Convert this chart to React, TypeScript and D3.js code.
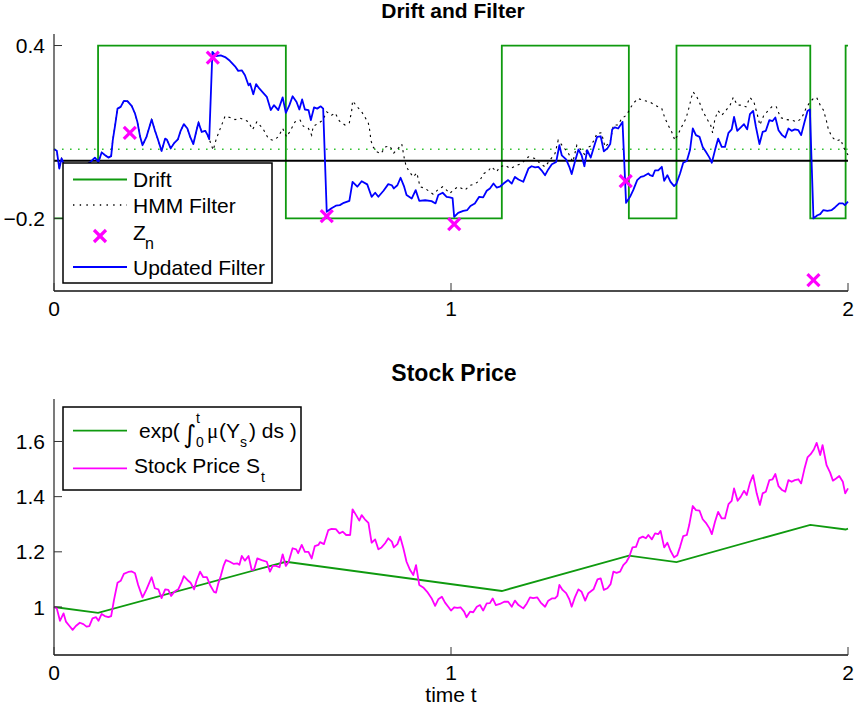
import React from 'react';
import * as d3 from 'd3';

// ---------- data ----------
const xTicks = [0, 1, 2];
const topYTicks = [0.4, -0.2];
const topYTickLabels = ['0.4', '\u22120.2'];
const bottomYTicks = [1, 1.2, 1.4, 1.6];
const bottomYTickLabels = ['1', '1.2', '1.4', '1.6'];

const driftTimes = [0, 0.111, 0.584, 1.128, 1.448, 1.568, 1.905, 1.994, 2.0];
const driftValues = [-0.2, 0.4, -0.2, 0.4, -0.2, 0.4, -0.2, 0.4, 0.4];
const meanDrift = 0.04;
const zeroLevel = 0;

// filter before first divergence (HMM and updated filter coincide)
const sharedFilter: [number, number][] = [
  [0, 0.04], [0.007, 0.035], [0.0134, -0.027], [0.019, 0.008], [0.025, -0.012], [0.035, -0.03],
  [0.05, -0.02], [0.065, -0.035], [0.08, -0.015], [0.092, -0.004], [0.103, 0.011], [0.112, -0.004],
  [0.12, 0.029], [0.128, 0.02], [0.137, 0.011], [0.144, 0.016], [0.148, 0.071], [0.154, 0.124],
  [0.16, 0.181], [0.168, 0.187], [0.176, 0.208], [0.185, 0.207], [0.196, 0.19], [0.204, 0.164],
  [0.21, 0.135], [0.217, 0.083], [0.223, 0.054], [0.233, 0.083], [0.246, 0.143], [0.254, 0.106],
  [0.261, 0.077], [0.271, 0.034], [0.28, 0.077], [0.284, 0.074], [0.294, 0.043], [0.302, 0.06],
  [0.312, 0.074], [0.319, 0.104], [0.327, 0.127], [0.336, 0.112], [0.343, 0.083], [0.351, 0.058],
  [0.358, 0.1], [0.364, 0.133], [0.372, 0.1], [0.381, 0.104], [0.387, 0.089], [0.391, 0.075],
];

const updatedFilterLater: [number, number][] = [
  [0.399, 0.378], [0.408, 0.363], [0.42, 0.366], [0.431, 0.36], [0.443, 0.347], [0.456, 0.328],
  [0.464, 0.312], [0.473, 0.314], [0.481, 0.297], [0.49, 0.262], [0.494, 0.268], [0.502, 0.231],
  [0.509, 0.266], [0.517, 0.251], [0.527, 0.236], [0.536, 0.222], [0.546, 0.176], [0.554, 0.193],
  [0.565, 0.176], [0.576, 0.22], [0.584, 0.166], [0.593, 0.193], [0.601, 0.224], [0.611, 0.204],
  [0.618, 0.178], [0.625, 0.213], [0.632, 0.178], [0.641, 0.176], [0.647, 0.141], [0.655, 0.185],
  [0.663, 0.181], [0.672, 0.189], [0.678, 0.181], [0.687, -0.177], [0.699, -0.165], [0.71, -0.156],
  [0.72, -0.154], [0.73, -0.146], [0.744, -0.139], [0.752, -0.073], [0.764, -0.09], [0.775, -0.071],
  [0.789, -0.082], [0.8, -0.125], [0.809, -0.111], [0.817, -0.125], [0.83, -0.104], [0.842, -0.081],
  [0.851, -0.085], [0.856, -0.096], [0.865, -0.085], [0.873, -0.059], [0.882, -0.09], [0.888, -0.119],
  [0.901, -0.131], [0.911, -0.102], [0.92, -0.139], [0.935, -0.137], [0.951, -0.14], [0.961, -0.148],
  [0.968, -0.119], [0.979, -0.111], [0.989, -0.125], [0.997, -0.127], [1.004, -0.13], [1.008, -0.195],
  [1.018, -0.181], [1.031, -0.174], [1.041, -0.171], [1.049, -0.157], [1.06, -0.148], [1.071, -0.125],
  [1.081, -0.127], [1.09, -0.104], [1.098, -0.096], [1.107, -0.079], [1.115, -0.093], [1.123, -0.09],
  [1.134, -0.077], [1.144, -0.067], [1.153, -0.079], [1.161, -0.056], [1.17, -0.065], [1.182, -0.073],
  [1.195, -0.027], [1.203, -0.019], [1.212, -0.023], [1.22, -0.021], [1.228, -0.033], [1.237, -0.05],
  [1.245, -0.03], [1.254, -0.012], [1.265, -0.004], [1.273, 0.054], [1.279, 0.019], [1.29, 0.005],
  [1.298, -0.021], [1.304, -0.046], [1.312, -0.004], [1.321, 0.039], [1.329, 0.019], [1.336, -0.019],
  [1.343, 0.037], [1.352, 0.011], [1.36, 0.048], [1.368, 0.083], [1.377, 0.085], [1.385, 0.033],
  [1.394, 0.043], [1.401, 0.058], [1.406, 0.109], [1.413, 0.116], [1.421, 0.112], [1.427, 0.124],
  [1.432, 0.135], [1.441, -0.146], [1.451, -0.125], [1.459, -0.102], [1.469, -0.067], [1.478, -0.056],
  [1.486, -0.053], [1.497, -0.044], [1.501, -0.05], [1.508, -0.053], [1.514, -0.033], [1.522, -0.033],
  [1.531, -0.021], [1.537, -0.07], [1.545, -0.05], [1.553, -0.073], [1.562, -0.088], [1.568, -0.079],
  [1.577, -0.044], [1.585, -0.007], [1.594, -0.001], [1.602, 0.037], [1.609, 0.112], [1.617, 0.089],
  [1.626, 0.083], [1.634, 0.048], [1.642, 0.031], [1.651, 0.011], [1.657, -0.007], [1.665, 0.037],
  [1.673, 0.077], [1.682, 0.048], [1.69, 0.048], [1.699, 0.097], [1.707, 0.109], [1.713, 0.152],
  [1.721, 0.104], [1.73, 0.116], [1.738, 0.127], [1.746, 0.109], [1.753, 0.162], [1.761, 0.173],
  [1.768, 0.118], [1.777, 0.058], [1.785, 0.1], [1.793, 0.104], [1.802, 0.141], [1.81, 0.138],
  [1.817, 0.15], [1.825, 0.106], [1.834, 0.089], [1.842, 0.081], [1.85, 0.112], [1.858, 0.104],
  [1.866, 0.109], [1.875, 0.106], [1.882, 0.089], [1.89, 0.132], [1.898, 0.173], [1.904, 0.178],
  [1.913, -0.2], [1.923, -0.189], [1.93, -0.185], [1.938, -0.171], [1.948, -0.174], [1.959, -0.171],
  [1.967, -0.162], [1.978, -0.148], [1.987, -0.148], [1.992, -0.154], [2.0, -0.142],
];

const hmmFilterLater: [number, number][] = [
  [0.401, 0.037], [0.409, 0.077], [0.42, 0.116], [0.431, 0.155], [0.443, 0.15], [0.456, 0.143],
  [0.469, 0.148], [0.481, 0.141], [0.49, 0.135], [0.5, 0.108], [0.511, 0.135], [0.526, 0.112],
  [0.54, 0.077], [0.552, 0.071], [0.565, 0.083], [0.576, 0.112], [0.586, 0.083], [0.596, 0.106],
  [0.607, 0.135], [0.62, 0.141], [0.628, 0.12], [0.641, 0.112], [0.649, 0.089], [0.653, 0.12],
  [0.666, 0.13], [0.677, 0.141], [0.687, 0.17], [0.699, 0.158], [0.708, 0.166], [0.719, 0.138],
  [0.733, 0.124], [0.744, 0.132], [0.75, 0.176], [0.752, 0.208], [0.764, 0.187], [0.775, 0.17],
  [0.783, 0.152], [0.792, 0.13], [0.796, 0.1], [0.798, 0.071], [0.804, 0.048], [0.813, 0.031],
  [0.824, 0.025], [0.834, 0.048], [0.846, 0.051], [0.856, 0.027], [0.867, 0.043], [0.876, 0.058],
  [0.882, 0.011], [0.887, -0.019], [0.895, -0.038], [0.905, -0.056], [0.914, -0.042], [0.922, -0.09],
  [0.935, -0.096], [0.955, -0.116], [0.966, -0.102], [0.979, -0.09], [0.989, -0.102], [0.997, -0.113],
  [1.008, -0.099], [1.018, -0.09], [1.035, -0.102], [1.048, -0.085], [1.06, -0.081], [1.073, -0.067],
  [1.083, -0.044], [1.094, -0.035], [1.102, -0.021], [1.115, -0.038], [1.123, -0.021], [1.136, -0.015],
  [1.149, -0.027], [1.161, -0.019], [1.178, -0.009], [1.195, 0.014], [1.212, 0.008], [1.224, -0.009],
  [1.237, -0.021], [1.249, 0.002], [1.262, 0.025], [1.27, 0.071], [1.283, 0.048], [1.296, 0.025],
  [1.307, -0.004], [1.317, 0.054], [1.327, 0.039], [1.338, 0.019], [1.343, 0.046], [1.352, 0.051],
  [1.36, 0.071], [1.368, 0.095], [1.379, 0.097], [1.388, 0.048], [1.401, 0.066], [1.409, 0.124],
  [1.421, 0.124], [1.43, 0.147], [1.442, 0.158], [1.451, 0.181], [1.459, 0.199], [1.471, 0.216],
  [1.484, 0.21], [1.501, 0.204], [1.514, 0.193], [1.531, 0.181], [1.539, 0.147], [1.547, 0.124],
  [1.556, 0.1], [1.564, 0.071], [1.573, 0.095], [1.581, 0.118], [1.592, 0.147], [1.6, 0.187],
  [1.606, 0.222], [1.61, 0.239], [1.619, 0.222], [1.627, 0.199], [1.634, 0.173], [1.644, 0.147],
  [1.654, 0.124], [1.659, 0.097], [1.665, 0.147], [1.673, 0.173], [1.682, 0.158], [1.693, 0.176],
  [1.703, 0.193], [1.711, 0.22], [1.721, 0.193], [1.732, 0.193], [1.743, 0.187], [1.753, 0.22],
  [1.763, 0.204], [1.772, 0.158], [1.778, 0.124], [1.788, 0.158], [1.796, 0.17], [1.808, 0.187],
  [1.819, 0.189], [1.83, 0.15], [1.845, 0.143], [1.858, 0.141], [1.871, 0.135], [1.883, 0.147],
  [1.894, 0.181], [1.904, 0.204], [1.913, 0.216], [1.921, 0.22], [1.93, 0.193], [1.938, 0.176],
  [1.945, 0.143], [1.95, 0.112], [1.959, 0.083], [1.971, 0.069], [1.982, 0.074], [1.988, 0.048],
  [1.997, 0.027], [2.0, 0.02],
];

const zTimes = [0.191, 0.4, 0.687, 1.008, 1.44, 1.913];
const zValues = [0.097, 0.358, -0.192, -0.22, -0.071, -0.414];

const expIntTimes = [0, 0.111, 0.584, 1.128, 1.448, 1.568, 1.905, 1.994, 2.0];
const expIntValues = [1.0, 0.979, 1.164, 1.058, 1.186, 1.163, 1.298, 1.281, 1.284];

const stockPrice: [number, number][] = [
  [0, 1.001], [0.007, 0.995], [0.015, 0.95], [0.024, 0.977], [0.03, 0.947], [0.039, 0.931],
  [0.047, 0.917], [0.055, 0.931], [0.065, 0.943], [0.074, 0.938], [0.082, 0.929], [0.089, 0.931],
  [0.097, 0.959], [0.106, 0.963], [0.112, 0.95], [0.12, 0.975], [0.128, 0.967], [0.137, 0.963],
  [0.144, 0.967], [0.151, 1.025], [0.16, 1.088], [0.168, 1.095], [0.176, 1.12], [0.187, 1.127],
  [0.196, 1.129], [0.204, 1.122], [0.212, 1.08], [0.223, 1.035], [0.233, 1.064], [0.246, 1.108],
  [0.254, 1.068], [0.263, 1.064], [0.271, 1.032], [0.28, 1.064], [0.288, 1.062], [0.295, 1.04],
  [0.303, 1.055], [0.313, 1.064], [0.322, 1.092], [0.327, 1.112], [0.336, 1.098], [0.344, 1.088],
  [0.353, 1.064], [0.359, 1.095], [0.368, 1.128], [0.376, 1.108], [0.385, 1.108], [0.393, 1.08],
  [0.403, 1.055], [0.408, 1.052], [0.414, 1.086], [0.42, 1.112], [0.427, 1.149], [0.433, 1.17],
  [0.443, 1.164], [0.453, 1.156], [0.462, 1.158], [0.467, 1.153], [0.473, 1.185], [0.481, 1.168],
  [0.49, 1.185], [0.498, 1.134], [0.504, 1.136], [0.512, 1.176], [0.523, 1.17], [0.536, 1.164],
  [0.544, 1.128], [0.551, 1.149], [0.559, 1.149], [0.568, 1.144], [0.576, 1.191], [0.584, 1.149],
  [0.591, 1.164], [0.601, 1.213], [0.61, 1.209], [0.615, 1.195], [0.624, 1.225], [0.632, 1.2],
  [0.641, 1.2], [0.649, 1.176], [0.657, 1.221], [0.666, 1.225], [0.67, 1.235], [0.68, 1.228],
  [0.691, 1.279], [0.699, 1.283], [0.71, 1.282], [0.719, 1.267], [0.727, 1.273], [0.736, 1.261],
  [0.746, 1.261], [0.752, 1.354], [0.761, 1.333], [0.769, 1.313], [0.775, 1.333], [0.783, 1.318],
  [0.792, 1.305], [0.8, 1.233], [0.809, 1.245], [0.817, 1.209], [0.825, 1.216], [0.834, 1.231],
  [0.842, 1.249], [0.851, 1.237], [0.856, 1.216], [0.865, 1.228], [0.872, 1.255], [0.88, 1.213],
  [0.888, 1.164], [0.897, 1.134], [0.905, 1.116], [0.912, 1.152], [0.92, 1.08], [0.93, 1.071],
  [0.94, 1.055], [0.951, 1.032], [0.96, 1.004], [0.968, 1.028], [0.977, 1.037], [0.985, 1.016],
  [0.993, 1.001], [1.0, 0.987], [1.008, 0.999], [1.016, 0.997], [1.024, 0.999], [1.033, 0.983],
  [1.039, 0.963], [1.048, 0.983], [1.056, 0.981], [1.065, 1.001], [1.073, 1.007], [1.081, 0.987],
  [1.09, 1.013], [1.098, 1.014], [1.105, 1.031], [1.113, 1.007], [1.123, 1.011], [1.134, 1.019],
  [1.144, 1.019], [1.153, 1.001], [1.161, 1.023], [1.17, 1.007], [1.182, 0.995], [1.191, 1.013],
  [1.199, 1.035], [1.207, 1.032], [1.217, 1.035], [1.226, 1.016], [1.237, 1.001], [1.245, 1.023],
  [1.254, 1.031], [1.262, 1.031], [1.268, 1.04], [1.273, 1.08], [1.281, 1.062], [1.29, 1.05],
  [1.298, 1.028], [1.304, 1.001], [1.312, 1.035], [1.321, 1.064], [1.329, 1.055], [1.338, 1.023],
  [1.346, 1.05], [1.359, 1.064], [1.369, 1.1], [1.377, 1.104], [1.385, 1.062], [1.394, 1.068],
  [1.402, 1.083], [1.409, 1.128], [1.417, 1.124], [1.426, 1.128], [1.434, 1.152], [1.442, 1.164],
  [1.449, 1.182], [1.457, 1.216], [1.466, 1.218], [1.474, 1.249], [1.483, 1.255], [1.491, 1.249],
  [1.497, 1.261], [1.506, 1.245], [1.514, 1.267], [1.522, 1.264], [1.528, 1.276], [1.537, 1.216],
  [1.545, 1.233], [1.553, 1.204], [1.562, 1.18], [1.57, 1.188], [1.577, 1.218], [1.585, 1.257],
  [1.594, 1.261], [1.6, 1.297], [1.609, 1.366], [1.617, 1.351], [1.626, 1.349], [1.634, 1.318],
  [1.642, 1.305], [1.651, 1.285], [1.657, 1.264], [1.665, 1.309], [1.673, 1.345], [1.682, 1.321],
  [1.69, 1.321], [1.699, 1.373], [1.707, 1.385], [1.713, 1.43], [1.722, 1.385], [1.73, 1.4],
  [1.738, 1.421], [1.745, 1.406], [1.753, 1.45], [1.761, 1.478], [1.77, 1.412], [1.778, 1.37],
  [1.785, 1.412], [1.793, 1.418], [1.802, 1.46], [1.81, 1.463], [1.817, 1.482], [1.825, 1.438],
  [1.834, 1.424], [1.842, 1.418], [1.85, 1.46], [1.858, 1.454], [1.866, 1.46], [1.875, 1.463],
  [1.882, 1.448], [1.89, 1.499], [1.898, 1.542], [1.906, 1.554], [1.914, 1.571], [1.921, 1.595],
  [1.93, 1.551], [1.936, 1.587], [1.946, 1.514], [1.955, 1.487], [1.962, 1.458], [1.97, 1.466],
  [1.978, 1.475], [1.987, 1.454], [1.993, 1.412], [2.0, 1.43],
];

// ---------- styling ----------
const FONT = "'Liberation Sans', Arial, Helvetica, sans-serif";
const GREEN = '#0f9a0f';
const LIGHT_GREEN = '#33c233';
const BLUE = '#0000ff';
const MAGENTA = '#ff00ff';

const x = d3.scaleLinear().domain([0, 2]).range([54, 848]);
const yTop = d3.scaleLinear().domain([-0.452, 0.44]).range([291, 34]);
const yBot = d3.scaleLinear().domain([0.826, 1.754]).range([655, 399]);

const pairLine = (ys: d3.ScaleLinear<number, number>) =>
  d3.line<[number, number]>().x(d => x(d[0])).y(d => ys(d[1]));

function Cross({ cx, cy, r = 6 }: { cx: number; cy: number; r?: number }) {
  return (
    <g stroke={MAGENTA} strokeWidth={3.2} strokeLinecap="butt">
      <line x1={cx - r} y1={cy - r} x2={cx + r} y2={cy + r} />
      <line x1={cx - r} y1={cy + r} x2={cx + r} y2={cy - r} />
    </g>
  );
}

function Axes({ ys, yTicks, yLabels, top, bottom }: {
  ys: d3.ScaleLinear<number, number>; yTicks: number[]; yLabels: string[]; top: number; bottom: number;
}) {
  const x0 = x(0);
  return (
    <g fontFamily={FONT} fontSize={21} fill="#000">
      <line x1={x0} y1={top} x2={x0} y2={bottom} stroke="#333" strokeWidth={1.3} />
      <line x1={x0} y1={bottom} x2={x(2)} y2={bottom} stroke="#111" strokeWidth={1.3} />
      {yTicks.map((t, i) => (
        <g key={'y' + i}>
          <line x1={x0} x2={x0 + 8} y1={ys(t)} y2={ys(t)} stroke="#333" strokeWidth={1} />
          <text x={x0 - 9} y={ys(t) + 7.5} textAnchor="end">{yLabels[i]}</text>
        </g>
      ))}
      {xTicks.map((t, i) => (
        <g key={'x' + i}>
          <line x1={x(t)} x2={x(t)} y1={bottom} y2={bottom - 8} stroke="#333" strokeWidth={1} />
          <text x={x(t)} y={bottom + 25} textAnchor="middle">{String(t)}</text>
        </g>
      ))}
    </g>
  );
}

export default function App() {
  const driftPts: [number, number][] = driftTimes.map((t, i) => [t, driftValues[i]]);
  const driftPath = d3.line<[number, number]>().x(d => x(d[0])).y(d => yTop(d[1])).curve(d3.curveStepAfter)(driftPts) || '';
  const updatedPath = pairLine(yTop)([...sharedFilter, ...updatedFilterLater]) || '';
  const hmmPath = pairLine(yTop)([...sharedFilter, ...hmmFilterLater]) || '';
  const expPts: [number, number][] = expIntTimes.map((t, i) => [t, expIntValues[i]]);
  const expPath = pairLine(yBot)(expPts) || '';
  const stockPath = pairLine(yBot)(stockPrice) || '';

  return (
    <div style={{ position: 'absolute', left: 0, top: 0, width: 858, height: 710, background: '#fff' }}>
      <svg width={858} height={710} viewBox="0 0 858 710" style={{ display: 'block' }}>
        <rect width={858} height={710} fill="#fff" />

        {/* ---------- Top panel ---------- */}
        <text x={453} y={18} textAnchor="middle" fontFamily={FONT} fontWeight="bold" fontSize={21}>Drift and Filter</text>
        <path d={driftPath} fill="none" stroke={GREEN} strokeWidth={1.8} />
        <line x1={x(0)} x2={x(2)} y1={yTop(meanDrift)} y2={yTop(meanDrift)} stroke={LIGHT_GREEN} strokeWidth={1.6} strokeDasharray="1.6 6.4" />
        <line x1={x(0)} x2={x(2)} y1={yTop(zeroLevel)} y2={yTop(zeroLevel)} stroke="#000" strokeWidth={2} />
        <path d={hmmPath} fill="none" stroke="#000" strokeWidth={1.1} strokeDasharray="2.2 4" />
        <path d={updatedPath} fill="none" stroke={BLUE} strokeWidth={1.8} strokeLinejoin="round" />
        {zTimes.map((t, i) => <Cross key={i} cx={x(t)} cy={yTop(zValues[i])} />)}
        <Axes ys={yTop} yTicks={topYTicks} yLabels={topYTickLabels} top={34} bottom={291} />

        {/* top legend */}
        <g fontFamily={FONT} fontSize={21}>
          <rect x={63} y={163} width={209} height={120} fill="#fff" stroke="#000" strokeWidth={1.5} />
          <line x1={73} x2={127} y1={179.5} y2={179.5} stroke={GREEN} strokeWidth={1.8} />
          <text x={133} y={187}>Drift</text>
          <line x1={73} x2={127} y1={205} y2={205} stroke="#000" strokeWidth={1.4} strokeDasharray="1.4 5.3" />
          <text x={133} y={213}>HMM Filter</text>
          <Cross cx={100} cy={236} />
          <text x={133} y={239.5}>Z</text>
          <text x={145} y={248.5} fontSize={16}>n</text>
          <line x1={73} x2={127} y1={267} y2={267} stroke={BLUE} strokeWidth={1.8} />
          <text x={133} y={275}>Updated Filter</text>
        </g>

        {/* ---------- Bottom panel ---------- */}
        <text x={454} y={381} textAnchor="middle" fontFamily={FONT} fontWeight="bold" fontSize={23}>Stock Price</text>
        <path d={expPath} fill="none" stroke={GREEN} strokeWidth={1.8} />
        <path d={stockPath} fill="none" stroke={MAGENTA} strokeWidth={1.8} strokeLinejoin="round" />
        <Axes ys={yBot} yTicks={bottomYTicks} yLabels={bottomYTickLabels} top={399} bottom={655} />
        <text x={451} y={702} textAnchor="middle" fontFamily={FONT} fontSize={21}>time t</text>

        {/* bottom legend */}
        <g fontFamily={FONT} fontSize={21}>
          <rect x={63} y={407} width={238} height={83} fill="#fff" stroke="#000" strokeWidth={1.5} />
          <line x1={73} x2={127} y1={430.7} y2={430.7} stroke={GREEN} strokeWidth={1.8} />
          <text x={139} y={437.5}>exp(</text>
          <text x={183} y={443} fontFamily="'DejaVu Sans', sans-serif" fontSize={25} transform="">{'\u222B'}</text>
          <text x={196} y={423} fontSize={14}>t</text>
          <text x={196} y={447} fontSize={14}>0</text>
          <text x={207} y={437.5} fontFamily="'Liberation Serif', serif">{'\u03BC'}</text>
          <text x={219} y={437.5}>(Y</text>
          <text x={240} y={447} fontSize={14}>s</text>
          <text x={249} y={437.5}>) ds )</text>
          <line x1={73} x2={127} y1={468.3} y2={468.3} stroke={MAGENTA} strokeWidth={1.8} />
          <text x={134} y={473}>Stock Price S</text>
          <text x={261} y={482} fontSize={14}>t</text>
        </g>
      </svg>
    </div>
  );
}
